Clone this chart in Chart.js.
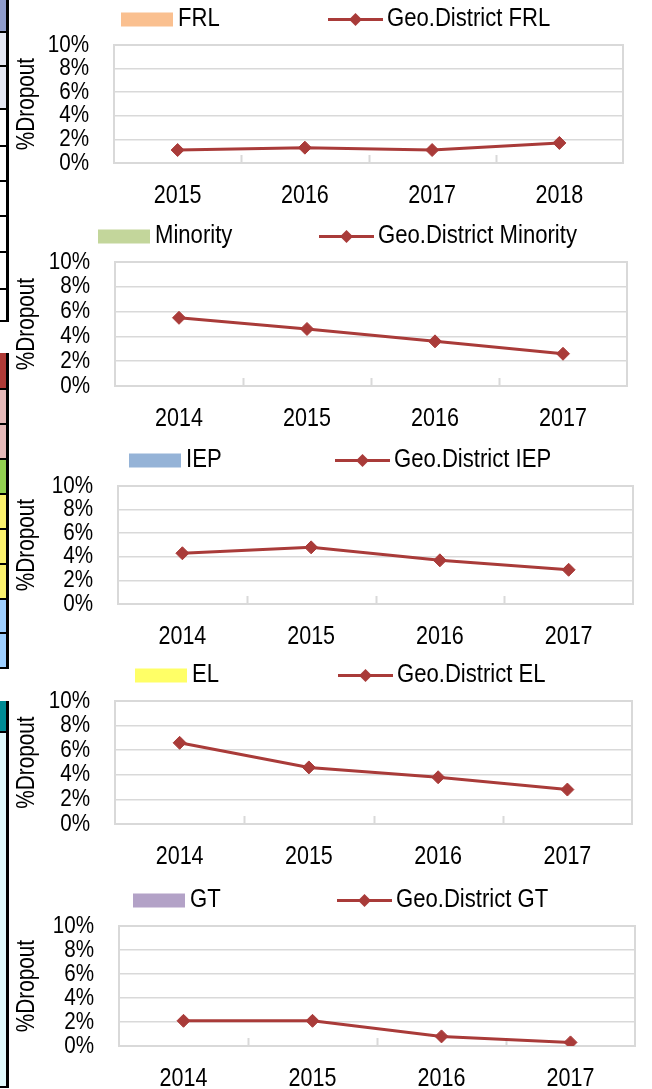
<!DOCTYPE html>
<html>
<head>
<meta charset="utf-8">
<script src="https://cdn.jsdelivr.net/npm/chart.js@4.4.1/dist/chart.umd.min.js"></script>
<style>
  html, body { margin: 0; padding: 0; background: #fff; }
  body { width: 652px; height: 1089px; position: relative; overflow: hidden; }
  canvas.panel { position: absolute; left: 0; }
  .cell { position: absolute; left: 0; width: 6px; box-sizing: border-box; border-bottom: 2px solid #000; }
  .edge { position: absolute; left: 6px; width: 3px; background: #000; }
</style>
</head>
<body>
<div id="strip"></div>
<script>
// ---- data ----
const frlYears = ['2015', '2016', '2017', '2018'];
const frlDistrict = [1.1, 1.3, 1.1, 1.7];

const minorityYears = ['2014', '2015', '2016', '2017'];
const minorityDistrict = [5.5, 4.6, 3.6, 2.6];

const iepYears = ['2014', '2015', '2016', '2017'];
const iepDistrict = [4.3, 4.8, 3.7, 2.9];

const elYears = ['2014', '2015', '2016', '2017'];
const elDistrict = [6.6, 4.6, 3.8, 2.8];

const gtYears = ['2014', '2015', '2016', '2017'];
const gtDistrict = [2.1, 2.1, 0.8, 0.3];

const percentTicks = [0, 2, 4, 6, 8, 10];
const groupNames = ['FRL', 'Minority', 'IEP', 'EL', 'GT'];
const districtLabels = ['Geo.District FRL', 'Geo.District Minority', 'Geo.District IEP', 'Geo.District EL', 'Geo.District GT'];
const axisTitle = '%Dropout';

// ---- styling ----
const FONT = "'Liberation Sans', Arial, sans-serif";
const groupColors = ['#FAC090', '#C3D69B', '#95B3D7', '#FFFF66', '#B3A2C7'];
const LINE_RED = '#A93B39';
const GRID = '#D9D9D9';

// placement of each small chart on the page
const panels = [
  { plotTop: 45,  plotH: 118, left: 114, right: 29, swatchX: 121, lineX: 328 },
  { plotTop: 262, plotH: 124, left: 115, right: 25, swatchX: 98,  lineX: 319 },
  { plotTop: 486, plotH: 118, left: 118, right: 19, swatchX: 129, lineX: 335 },
  { plotTop: 701, plotH: 123, left: 115, right: 20, swatchX: 135, lineX: 338 },
  { plotTop: 926, plotH: 120, left: 119, right: 17, swatchX: 133, lineX: 337 }
];
const HEAD = 45, FOOT = 46;

// slice of the neighbouring table along the left edge
const stripCells = [
  [0, 33, '#8E9BCB'], [33, 34, '#E4E7F3'], [67, 43, '#E4E7F3'], [110, 37, '#fff'], [147, 35, '#fff'],
  [182, 35, '#fff'], [217, 36, '#fff'], [253, 37, '#fff'], [290, 32, '#fff'],
  [353, 37, '#AE3A36'], [390, 35, '#E6B9B8'], [425, 35, '#E6B9B8'], [460, 35, '#92D050'],
  [495, 35, '#F9F06C'], [530, 35, '#F9F06C'], [565, 35, '#F9F06C'], [600, 34, '#9DCFFF'], [634, 35, '#9DCFFF'],
  [701, 32, '#008B94'], [733, 355, '#E0FAFD']
];
const stripEdges = [[0, 322], [353, 669], [701, 1088]];
const strip = document.getElementById('strip');
stripCells.forEach(([t, h, c]) => {
  const d = document.createElement('div');
  d.className = 'cell';
  d.style.top = t + 'px'; d.style.height = h + 'px'; d.style.background = c;
  strip.appendChild(d);
});
stripEdges.forEach(([t, b]) => {
  const d = document.createElement('div');
  d.className = 'edge';
  d.style.top = t + 'px'; d.style.height = (b - t) + 'px';
  strip.appendChild(d);
});

// condensed text: a regular face squeezed horizontally
function narrowText(ctx, text, x, y, { size = 24, sx = 0.85, align = 'left', rotate = 0 } = {}) {
  ctx.save();
  ctx.translate(x, y);
  if (rotate) ctx.rotate(rotate);
  ctx.scale(sx, 1);
  ctx.font = size + 'px ' + FONT;
  ctx.fillStyle = '#000';
  ctx.textAlign = align;
  ctx.textBaseline = 'middle';
  ctx.fillText(text, 0, 0);
  ctx.restore();
}

// ---- plugins ----
const plotFrame = {
  id: 'plotFrame',
  beforeDatasetsDraw(chart) {
    const { ctx, chartArea: a, scales: { x } } = chart;
    ctx.save();
    ctx.strokeStyle = GRID;
    ctx.lineWidth = 2;
    ctx.strokeRect(a.left, a.top, a.right - a.left, a.bottom - a.top);
    // inner tick marks between categories
    ctx.beginPath();
    const n = chart.data.labels.length;
    for (let i = 0; i < n - 1; i++) {
      const px = Math.round(x.getPixelForValue(i + 0.5)) + 0.5;
      ctx.moveTo(px, a.bottom);
      ctx.lineTo(px, a.bottom - 8);
    }
    ctx.stroke();
    ctx.restore();
  }
};

const axisText = {
  id: 'axisText',
  afterDraw(chart) {
    const { ctx, chartArea: a, scales: { x, y } } = chart;
    x.ticks.forEach((t, i) => {
      narrowText(ctx, x.getLabelForValue(t.value), x.getPixelForTick(i), a.bottom + 33, { size: 25, sx: 0.86, align: 'center' });
    });
    y.ticks.forEach((t, i) => {
      narrowText(ctx, t.value + '%', a.left - 25, y.getPixelForTick(i), { size: 24, sx: 0.86, align: 'right' });
    });
    narrowText(ctx, axisTitle, 27, (a.top + a.bottom) / 2, { size: 25, sx: 0.83, align: 'center', rotate: -Math.PI / 2 });
  }
};

const legendRow = {
  id: 'legendRow',
  afterDraw(chart, args, opts) {
    const { ctx } = chart;
    const y = chart.chartArea.top - 25.5;
    const [bars, line] = chart.data.datasets;
    ctx.save();
    ctx.fillStyle = bars.backgroundColor;
    ctx.fillRect(opts.swatchX, y - 7, 52, 14);

    ctx.strokeStyle = line.borderColor;
    ctx.lineWidth = 3;
    ctx.beginPath();
    ctx.moveTo(opts.lineX, y);
    ctx.lineTo(opts.lineX + 55, y);
    ctx.stroke();
    const cx = opts.lineX + 27.5, r = 6.5;
    ctx.fillStyle = line.borderColor;
    ctx.beginPath();
    ctx.moveTo(cx - r, y); ctx.lineTo(cx, y - r); ctx.lineTo(cx + r, y); ctx.lineTo(cx, y + r);
    ctx.closePath();
    ctx.fill();
    ctx.restore();

    narrowText(ctx, bars.label, opts.swatchX + 57, y - 0.5, { size: 26, sx: 0.85 });
    narrowText(ctx, line.label, opts.lineX + 59, y - 0.5, { size: 26, sx: 0.85 });
  }
};

// ---- charts ----
const series = [
  [frlYears, frlDistrict],
  [minorityYears, minorityDistrict],
  [iepYears, iepDistrict],
  [elYears, elDistrict],
  [gtYears, gtDistrict]
];

series.forEach(([years, values], i) => {
  const p = panels[i];
  const canvas = document.createElement('canvas');
  canvas.className = 'panel';
  canvas.width = 652;
  canvas.height = HEAD + p.plotH + FOOT;
  canvas.style.top = (p.plotTop - HEAD) + 'px';
  document.body.appendChild(canvas);

  new Chart(canvas.getContext('2d'), {
    data: {
      labels: years,
      datasets: [
        { type: 'bar', label: groupNames[i], data: [], backgroundColor: groupColors[i] },
        {
          type: 'line', label: districtLabels[i], data: values,
          borderColor: LINE_RED, backgroundColor: LINE_RED, borderWidth: 3, tension: 0,
          pointStyle: 'rectRot', pointRadius: 6.5, pointBorderWidth: 1,
          pointBackgroundColor: LINE_RED, pointBorderColor: LINE_RED
        }
      ]
    },
    options: {
      responsive: false,
      animation: false,
      devicePixelRatio: 1,
      layout: { padding: { top: HEAD, left: 0, right: p.right, bottom: 0 } },
      plugins: {
        legend: { display: false },
        tooltip: { enabled: false },
        legendRow: { swatchX: p.swatchX, lineX: p.lineX }
      },
      scales: {
        x: {
          offset: true,
          afterFit: s => { s.height = FOOT; },
          grid: { display: false, drawTicks: false },
          border: { display: false },
          ticks: { display: false, autoSkip: false }
        },
        y: {
          min: 0, max: 10,
          afterFit: s => { s.width = p.left; },
          afterBuildTicks: s => { s.ticks = percentTicks.map(v => ({ value: v })); },
          grid: { color: GRID, lineWidth: 1.5, drawTicks: false },
          border: { display: false },
          ticks: { display: false, autoSkip: false },
          title: { display: false, text: axisTitle }
        }
      }
    },
    plugins: [plotFrame, axisText, legendRow]
  });
});
</script>
</body>
</html>
